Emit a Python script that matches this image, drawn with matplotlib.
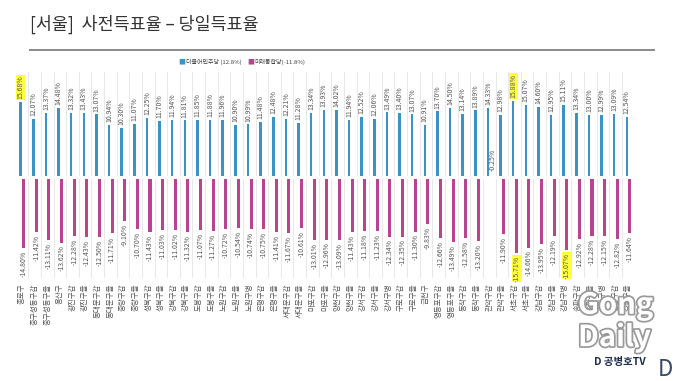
import matplotlib.pyplot as plt
import matplotlib.patheffects as pe
import numpy as np

plt.rcParams['font.family'] = ['Noto Sans CJK KR', 'DejaVu Sans']

# 선거구 (서울 49개)
districts = ['종로구', '중구성동구갑', '중구성동구을', '용산구', '광진구갑', '광진구을',
             '동대문구갑', '동대문구을', '중랑구갑', '중랑구을', '성북구갑', '성북구을',
             '강북구갑', '강북구을', '도봉구갑', '도봉구을', '노원구갑', '노원구을',
             '노원구병', '은평구갑', '은평구을', '서대문구갑', '서대문구을', '마포구갑',
             '마포구을', '양천구갑', '양천구을', '강서구갑', '강서구을', '강서구병',
             '구로구갑', '구로구을', '금천구', '영등포구갑', '영등포구을', '동작구갑',
             '동작구을', '관악구갑', '관악구을', '서초구갑', '서초구을', '강남구갑',
             '강남구을', '강남구병', '송파구갑', '송파구을', '송파구병', '강동구갑', '강동구을']

# 더불어민주당 (사전 - 당일, %)
dem = [15.68, 12.07, 13.37, 14.48, 13.32, 13.43, 13.07, 10.94, 10.30, 11.07, 12.25, 11.70,
       11.94, 11.81, 11.85, 11.88, 11.96, 10.90, 10.99, 11.48, 12.48, 12.21, 11.28, 13.34,
       13.93, 14.02, 11.94, 12.52, 12.06, 13.49, 13.40, 13.07, 10.91, 13.70, 14.50, 13.14,
       13.89, 14.33, 12.98, 15.88, 15.07, 14.60, 12.95, 15.11, 13.34, 13.00, 12.99, 13.09,
       12.54]

# 미래통합당 (사전 - 당일, %)
upp = [-14.80, -11.42, -13.11, -13.62, -12.28, -12.43, -12.50, -11.71, -9.10, -10.70,
       -11.43, -11.03, -11.02, -11.32, -11.07, -11.27, -10.72, -10.54, -10.74, -10.75,
       -11.41, -11.67, -10.61, -13.01, -12.96, -13.09, -11.43, -11.18, -11.23, -12.34,
       -12.35, -11.30, -9.83, -12.66, -13.49, -12.58, -13.20, -0.25, -11.90, -15.71,
       -14.66, -13.95, -12.19, -15.07, -12.92, -12.28, -12.15, -12.82, -11.64]

legend_labels = ['더불어민주당 (12.8%)', '미래통합당(-11.8%)']
highlight_dem = [0, 39]
highlight_upp = [39, 43]

blue = '#3b93c3'
pink = '#b8438f'

fig = plt.figure(figsize=(6.8, 3.81), dpi=100)
ax = fig.add_axes([0.023, 0.27, 0.91, 0.541])

x = np.arange(len(districts))
ax.bar(x - 0.1, dem, width=0.2, color=blue)
ax.bar(x + 0.14, upp, width=0.24, color=pink)
ax.axhline(0, color='white', lw=2.2)

for i in x:
    ax.axvline(i + 0.5, color='#e4e4e4', lw=0.6, zorder=0)
    bbox = dict(boxstyle='square,pad=0.1', fc='#ffff40', ec='none') if i in highlight_dem else None
    ax.text(i - 0.1, dem[i] + 0.6, f'{dem[i]:.2f}%', rotation=90, ha='center', va='bottom',
            fontsize=5, color='#555555', bbox=bbox)
    bbox = dict(boxstyle='square,pad=0.1', fc='#ffff40', ec='none') if i in highlight_upp else None
    if upp[i] > -1:
        ax.text(i + 0.3, 1.4, f'{upp[i]:.2f}%', rotation=90, ha='center', va='bottom',
                fontsize=5, color='#555555')
    else:
        ax.text(i + 0.14, upp[i] - 0.6, f'{upp[i]:.2f}%', rotation=90, ha='center', va='top',
                fontsize=5, color='#555555', bbox=bbox)

ax.set_xlim(-0.5, len(districts) - 0.5)
ax.set_ylim(-21, 21.9)
ax.set_xticks(x)
ax.set_xticklabels(districts, rotation=90, va='top', ha='center', fontsize=5.4, color='#555555')
ax.tick_params(axis='x', length=0, pad=4)
ax.set_yticks([])
for s in ax.spines.values():
    s.set_visible(False)

# 제목과 구분선
fig.text(0.044, 0.935, '[서울]  사전득표율 – 당일득표율', fontsize=12.5, color='#333333',
         ha='left', va='center')
fig.add_artist(plt.Line2D([0.044, 0.962], [0.868, 0.868], color='#8a8a8a', lw=1.4))

# 범례
fig.text(0.262, 0.837, '■', color=blue, fontsize=5, ha='left', va='center')
fig.text(0.273, 0.837, legend_labels[0], color='#444444', fontsize=4.3, ha='left', va='center')
fig.text(0.363, 0.837, '■', color=pink, fontsize=5, ha='left', va='center')
fig.text(0.374, 0.837, legend_labels[1], color='#444444', fontsize=4.3, ha='left', va='center')

# 워터마크
shadow = [pe.withStroke(linewidth=2.5, foreground='#9a9a9a')]
fig.text(0.85, 0.2, 'Gong', fontsize=21, fontweight='bold', color='white',
         ha='left', va='center', path_effects=shadow)
fig.text(0.85, 0.115, 'Daily', fontsize=21, fontweight='bold', color='white',
         ha='left', va='center', path_effects=shadow)
fig.text(0.873, 0.05, 'D 공병호TV', fontsize=7.5, fontweight='bold', color='#1c2b4a',
         ha='left', va='center')
fig.text(0.968, 0.03, 'D', fontsize=16, color='#3a4a66', ha='left', va='center')

fig.savefig('out.png', dpi=100)
